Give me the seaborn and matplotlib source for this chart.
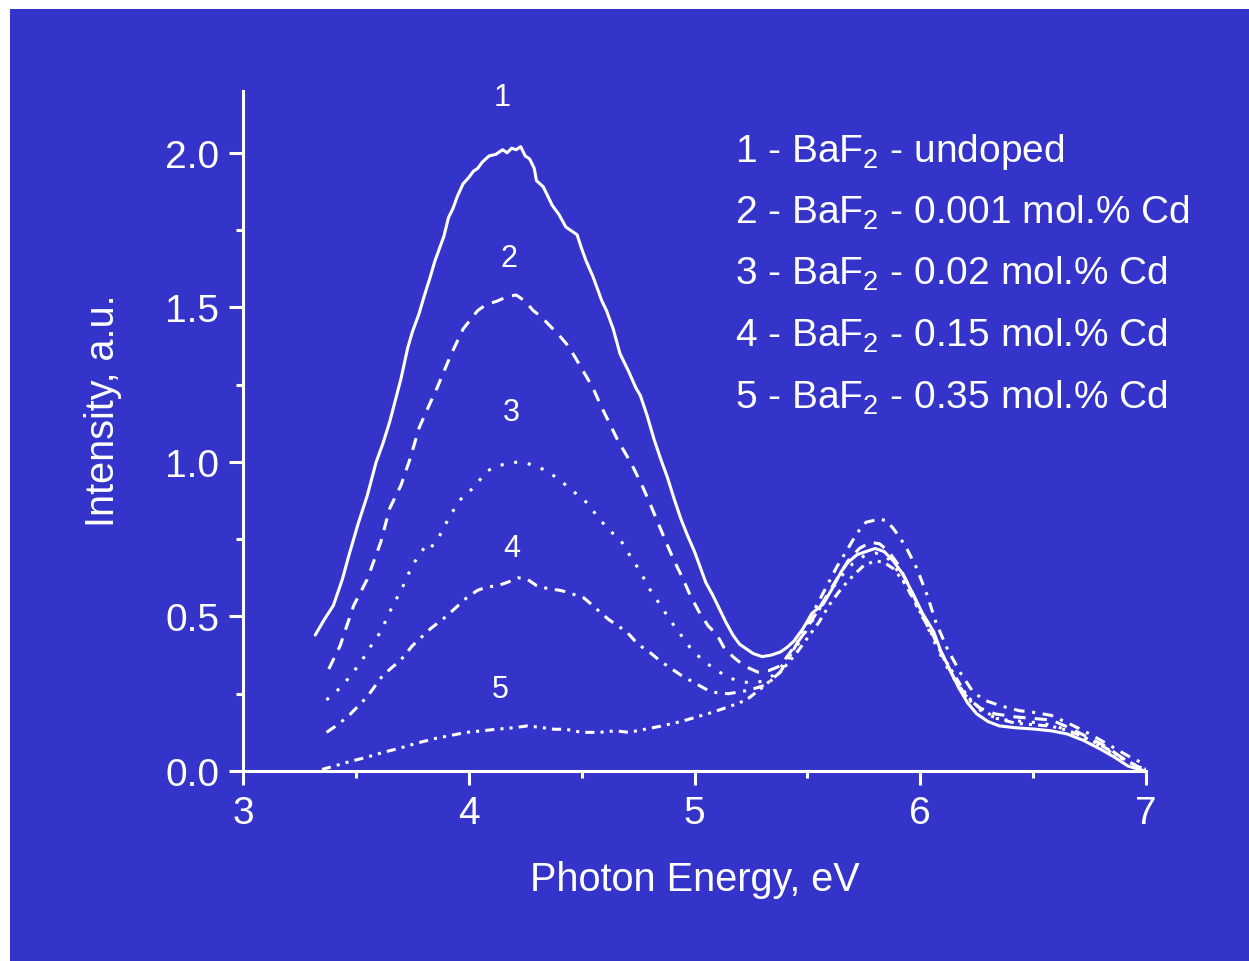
import numpy as np
import pandas as pd
import seaborn as sns
import matplotlib.pyplot as plt
from matplotlib.patches import Rectangle
from matplotlib.ticker import MultipleLocator

# curve 1 - undoped (solid)
e1 = [3.32, 3.36, 3.40, 3.44, 3.47, 3.51, 3.55, 3.59, 3.62, 3.65, 3.70, 3.73, 3.75, 3.78, 3.80,
      3.83, 3.85, 3.87, 3.89, 3.91, 3.93, 3.95, 3.975, 4.00, 4.02, 4.04, 4.06, 4.09, 4.12, 4.15,
      4.17, 4.19, 4.21, 4.23, 4.25, 4.27, 4.29, 4.30, 4.33, 4.35, 4.37, 4.40, 4.43, 4.45, 4.48,
      4.50, 4.52, 4.55, 4.57, 4.59, 4.61, 4.64, 4.67, 4.71, 4.74, 4.76, 4.79, 4.82, 4.85, 4.88,
      4.91, 4.94, 4.97, 5.00, 5.03, 5.05, 5.08, 5.11, 5.14, 5.17, 5.20, 5.23, 5.26, 5.30, 5.34,
      5.38, 5.41, 5.44, 5.48, 5.52, 5.57, 5.61, 5.65, 5.68, 5.72, 5.76, 5.80, 5.84, 5.88, 5.92,
      5.97, 6.01, 6.06, 6.09, 6.13, 6.17, 6.21, 6.25, 6.30, 6.35, 6.42, 6.50, 6.58, 6.65, 6.72,
      6.80, 6.86, 6.92, 6.97, 7.00]
i1 = [0.44, 0.49, 0.535, 0.62, 0.70, 0.80, 0.89, 1.00, 1.06, 1.13, 1.27, 1.37, 1.42, 1.48, 1.53,
      1.60, 1.65, 1.69, 1.73, 1.79, 1.82, 1.86, 1.90, 1.92, 1.94, 1.95, 1.97, 1.99, 1.995, 2.01,
      2.00, 2.015, 2.01, 2.02, 1.99, 1.98, 1.95, 1.91, 1.89, 1.86, 1.83, 1.80, 1.76, 1.75, 1.735,
      1.69, 1.65, 1.60, 1.56, 1.52, 1.49, 1.43, 1.35, 1.29, 1.24, 1.215, 1.15, 1.075, 1.01, 0.95,
      0.88, 0.815, 0.76, 0.71, 0.65, 0.61, 0.57, 0.525, 0.48, 0.44, 0.41, 0.395, 0.38, 0.37, 0.375,
      0.385, 0.40, 0.42, 0.46, 0.51, 0.54, 0.59, 0.645, 0.675, 0.70, 0.71, 0.72, 0.71, 0.68, 0.64,
      0.57, 0.51, 0.45, 0.39, 0.33, 0.27, 0.22, 0.185, 0.16, 0.146, 0.14, 0.136, 0.13, 0.12, 0.10,
      0.07, 0.045, 0.016, 0.005, 0.0]

# curve 2 - 0.001 mol.% Cd (dashed)
e2 = [3.38, 3.43, 3.46, 3.49, 3.55, 3.58, 3.61, 3.65, 3.70, 3.74, 3.78, 3.81, 3.86, 3.92, 3.975,
      4.04, 4.08, 4.125, 4.17, 4.21, 4.25, 4.285, 4.32, 4.36, 4.40, 4.435, 4.47, 4.51, 4.55, 4.58,
      4.62, 4.66, 4.70, 4.73, 4.77, 4.80, 4.84, 4.88, 4.91, 4.95, 4.98, 5.02, 5.06, 5.10, 5.13,
      5.17, 5.22, 5.28, 5.33, 5.38, 5.43, 5.48, 5.53, 5.58, 5.63, 5.68, 5.73, 5.78, 5.82, 5.86,
      5.90, 5.95, 6.00, 6.05, 6.10, 6.15, 6.20, 6.26, 6.33, 6.42, 6.50, 6.58, 6.66, 6.74, 6.82,
      6.90, 6.96, 7.00]
i2 = [0.33, 0.405, 0.47, 0.535, 0.62, 0.68, 0.74, 0.85, 0.925, 1.01, 1.11, 1.16, 1.24, 1.345, 1.43,
      1.49, 1.51, 1.52, 1.535, 1.54, 1.52, 1.49, 1.47, 1.44, 1.41, 1.38, 1.34, 1.29, 1.24, 1.19,
      1.13, 1.07, 1.02, 0.98, 0.92, 0.87, 0.80, 0.73, 0.68, 0.62, 0.57, 0.515, 0.47, 0.44, 0.40,
      0.37, 0.34, 0.32, 0.325, 0.34, 0.39, 0.44, 0.50, 0.56, 0.62, 0.68, 0.72, 0.74, 0.735, 0.71,
      0.67, 0.60, 0.52, 0.45, 0.37, 0.30, 0.245, 0.205, 0.185, 0.175, 0.17, 0.165, 0.14, 0.11, 0.08,
      0.04, 0.015, 0.005]

# curve 3 - 0.02 mol.% Cd (dotted)
e3 = [3.37, 3.44, 3.52, 3.58, 3.61, 3.65, 3.71, 3.75, 3.81, 3.83, 3.87, 3.92, 3.975, 4.02, 4.08,
      4.12, 4.17, 4.22, 4.26, 4.30, 4.35, 4.43, 4.52, 4.58, 4.62, 4.67, 4.72, 4.76, 4.80, 4.85,
      4.90, 4.94, 4.98, 5.02, 5.07, 5.11, 5.16, 5.20, 5.25, 5.30, 5.35, 5.40, 5.45, 5.50, 5.55,
      5.60, 5.65, 5.70, 5.75, 5.80, 5.84, 5.88, 5.93, 5.98, 6.03, 6.08, 6.13, 6.18, 6.24, 6.30,
      6.38, 6.46, 6.54, 6.62, 6.70, 6.78, 6.86, 6.93, 7.00]
i3 = [0.23, 0.275, 0.35, 0.42, 0.45, 0.515, 0.60, 0.665, 0.73, 0.72, 0.76, 0.83, 0.89, 0.915, 0.97,
      0.985, 0.995, 1.0, 0.995, 0.985, 0.97, 0.925, 0.87, 0.815, 0.78, 0.75, 0.69, 0.645, 0.59, 0.535,
      0.48, 0.44, 0.40, 0.37, 0.34, 0.32, 0.30, 0.29, 0.285, 0.29, 0.31, 0.35, 0.40, 0.46, 0.52,
      0.58, 0.63, 0.67, 0.695, 0.705, 0.70, 0.67, 0.61, 0.54, 0.47, 0.39, 0.32, 0.265, 0.21, 0.18,
      0.165, 0.16, 0.155, 0.14, 0.115, 0.085, 0.055, 0.025, 0.01]

# curve 4 - 0.15 mol.% Cd (dash-dot)
e4 = [3.37, 3.42, 3.47, 3.55, 3.62, 3.70, 3.75, 3.83, 3.90, 3.99, 4.04, 4.08, 4.13, 4.17, 4.22,
      4.26, 4.30, 4.35, 4.40, 4.43, 4.47, 4.51, 4.55, 4.58, 4.62, 4.66, 4.70, 4.75, 4.80, 4.85,
      4.90, 4.94, 5.00, 5.05, 5.08, 5.15, 5.23, 5.28, 5.32, 5.38, 5.43, 5.48, 5.53, 5.58, 5.63,
      5.68, 5.72, 5.76, 5.82, 5.85, 5.88, 5.91, 5.94, 5.985, 6.03, 6.07, 6.12, 6.18, 6.23, 6.28,
      6.36, 6.44, 6.50, 6.58, 6.64, 6.68, 6.75, 6.81, 6.87, 6.93, 7.00]
i4 = [0.125, 0.15, 0.18, 0.24, 0.31, 0.36, 0.405, 0.46, 0.50, 0.56, 0.585, 0.595, 0.60, 0.61, 0.625,
      0.62, 0.60, 0.59, 0.585, 0.58, 0.57, 0.56, 0.535, 0.515, 0.49, 0.47, 0.45, 0.41, 0.385, 0.355,
      0.33, 0.31, 0.285, 0.265, 0.255, 0.25, 0.26, 0.27, 0.28, 0.32, 0.38, 0.45, 0.52, 0.59, 0.66,
      0.72, 0.77, 0.805, 0.815, 0.81, 0.785, 0.755, 0.72, 0.655, 0.57, 0.48, 0.395, 0.315, 0.26, 0.23,
      0.21, 0.195, 0.19, 0.18, 0.16, 0.146, 0.12, 0.095, 0.07, 0.045, 0.02]

# curve 5 - 0.35 mol.% Cd (dash-dot-dot)
e5 = [3.35, 3.40, 3.47, 3.55, 3.62, 3.70, 3.77, 3.85, 3.92, 3.99, 4.06, 4.12, 4.20, 4.26, 4.33,
      4.38, 4.43, 4.50, 4.58, 4.65, 4.71, 4.78, 4.85, 4.94, 5.01, 5.08, 5.16, 5.23, 5.30, 5.38,
      5.45, 5.50, 5.55, 5.60, 5.65, 5.70, 5.75, 5.80, 5.84, 5.88, 5.92, 5.96, 6.01, 6.06, 6.11,
      6.16, 6.21, 6.27, 6.34, 6.42, 6.50, 6.58, 6.66, 6.74, 6.82, 6.90, 6.96, 7.00]
i5 = [0.005, 0.015, 0.03, 0.045, 0.06, 0.075, 0.09, 0.105, 0.115, 0.125, 0.13, 0.135, 0.14, 0.146, 0.14,
      0.135, 0.135, 0.125, 0.125, 0.13, 0.125, 0.135, 0.145, 0.16, 0.175, 0.19, 0.21, 0.23, 0.27, 0.32,
      0.38, 0.43, 0.48, 0.54, 0.59, 0.63, 0.665, 0.68, 0.675, 0.655, 0.62, 0.57, 0.50, 0.43, 0.36,
      0.30, 0.24, 0.20, 0.17, 0.155, 0.15, 0.145, 0.13, 0.105, 0.075, 0.04, 0.015, 0.005]

curve_ids = ["1", "2", "3", "4", "5"]
legend_lines = [r"1 - BaF$_2$ - undoped",
                r"2 - BaF$_2$ - 0.001 mol.% Cd",
                r"3 - BaF$_2$ - 0.02 mol.% Cd",
                r"4 - BaF$_2$ - 0.15 mol.% Cd",
                r"5 - BaF$_2$ - 0.35 mol.% Cd"]
# where the numbers 1..5 sit over the curves (eV, a.u.)
label_x = [4.15, 4.18, 4.19, 4.19, 4.14]
label_y = [2.18, 1.66, 1.16, 0.72, 0.266]

BLUE = "#3434ca"

sns.set_theme(style="ticks")
plt.rcParams['font.family'] = ['Liberation Sans', 'DejaVu Sans']
plt.rcParams['mathtext.fontset'] = 'custom'
plt.rcParams['mathtext.rm'] = 'Liberation Sans'
plt.rcParams['mathtext.it'] = 'Liberation Sans'

frames = []
for cid, e, it in zip(curve_ids, [e1, e2, e3, e4, e5], [i1, i2, i3, i4, i5]):
    frames.append(pd.DataFrame({'energy': e, 'intensity': it, 'curve': cid}))
df = pd.concat(frames, ignore_index=True)

fig = plt.figure(figsize=(12.49, 9.62), dpi=100, facecolor='white')
fig.patches.append(Rectangle((10 / 1249, 0), 1, 952 / 962, transform=fig.transFigure,
                             facecolor=BLUE, edgecolor='none', zorder=-10))
ax = fig.add_axes([243 / 1249, (962 - 772) / 962, (1146 - 243) / 1249, (772 - 92) / 962])
ax.set_facecolor('none')

dash_map = {"1": "", "2": (4, 3), "3": (1, 3.5), "4": (3.5, 2.5, 1, 2.5), "5": (3, 2, 1, 2, 1, 2)}
sns.lineplot(data=df, x='energy', y='intensity', hue='curve', style='curve',
             palette={c: 'white' for c in curve_ids}, dashes=dash_map,
             linewidth=2.2, legend=False, ax=ax)

for cid, lx, ly in zip(curve_ids, label_x, label_y):
    ax.text(lx, ly, cid, color='white', fontsize=22, ha='center', va='center', clip_on=False)

for k, line in enumerate(legend_lines):
    ax.text(5.179, 1.974 - k * 0.1994, line, color='white', fontsize=28, ha='left', va='baseline')

ax.set_xlim(3, 7)
ax.set_ylim(0, 2.2)
ax.xaxis.set_major_locator(MultipleLocator(1))
ax.xaxis.set_minor_locator(MultipleLocator(0.5))
ax.yaxis.set_major_locator(MultipleLocator(0.5))
ax.yaxis.set_minor_locator(MultipleLocator(0.25))
ax.yaxis.set_major_formatter(plt.FormatStrFormatter('%.1f'))

for side in ['top', 'right']:
    ax.spines[side].set_visible(False)
for side in ['left', 'bottom']:
    ax.spines[side].set_color('white')
    ax.spines[side].set_linewidth(2.2)

ax.tick_params(which='major', direction='out', length=10, width=2.2, colors='white',
               labelsize=28, pad=7)
ax.tick_params(which='minor', direction='out', length=5, width=2.2, colors='white')

ax.set_xlabel('Photon Energy, eV', color='white', fontsize=28.5)
ax.set_ylabel('Intensity, a.u.', color='white', fontsize=28.5)
ax.xaxis.label.set_va('center')
ax.yaxis.label.set_va('center')
ax.xaxis.set_label_coords(0.5, -0.159)
ax.yaxis.set_label_coords(-0.155, 0.532)

fig.savefig('out.png', dpi=100, facecolor=fig.get_facecolor())
